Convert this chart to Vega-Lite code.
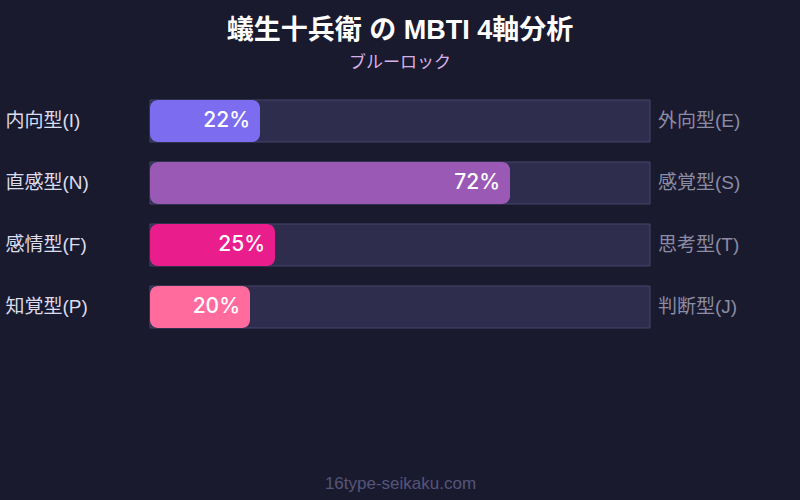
{
  "$schema": "https://vega.github.io/schema/vega-lite/v6.json",
  "width": 500,
  "height": 248,
  "autosize": "none",
  "padding": {"left": 150, "top": 90, "right": 150, "bottom": 162},
  "background": "#1a1a2e",
  "title": {
    "text": "蟻生十兵衛 の MBTI 4軸分析",
    "subtitle": "ブルーロック",
    "anchor": "middle",
    "color": "#ffffff",
    "fontSize": 27,
    "fontWeight": "bold",
    "font": "Liberation Sans, Noto Sans CJK JP",
    "subtitleColor": "#d8b0e8",
    "subtitleFontSize": 17,
    "subtitleFont": "Liberation Sans, Noto Sans CJK JP",
    "subtitlePadding": 10,
    "offset": 18
  },
  "config": {
    "view": {"stroke": null},
    "font": "Liberation Sans, Noto Sans CJK JP"
  },
  "data": {
    "values": [
      {"left": "内向型(I)", "right": "外向型(E)", "value": 22, "key": "I"},
      {"left": "直感型(N)", "right": "感覚型(S)", "value": 72, "key": "N"},
      {"left": "感情型(F)", "right": "思考型(T)", "value": 25, "key": "F"},
      {"left": "知覚型(P)", "right": "判断型(J)", "value": 20, "key": "P"}
    ]
  },
  "encoding": {
    "y": {
      "field": "left",
      "type": "nominal",
      "sort": null,
      "scale": {"paddingInner": 0.3226, "paddingOuter": 0.1613},
      "axis": {
        "title": null,
        "domain": false,
        "ticks": false,
        "tickSize": 0,
        "labelAlign": "left",
        "labelPadding": 145,
        "labelColor": "#dcdcec",
        "labelFontSize": 19,
        "labelFont": "Liberation Sans, Noto Sans CJK JP"
      }
    }
  },
  "layer": [
    {
      "mark": {"type": "bar", "fill": "#2e2d4d", "stroke": "#46456b", "strokeWidth": 1},
      "encoding": {
        "x": {"datum": 0, "type": "quantitative", "scale": {"domain": [0, 100]},
          "axis": {
            "title": "16type-seikaku.com",
            "titleColor": "#55557a",
            "titleFontSize": 17,
            "titleFontWeight": "normal",
            "titleFont": "Liberation Sans, Noto Sans CJK JP",
            "titlePadding": 137,
            "labels": false,
            "ticks": false,
            "domain": false,
            "grid": false
          }
        },
        "x2": {"datum": 100}
      }
    },
    {
      "mark": {"type": "bar", "cornerRadius": 8},
      "encoding": {
        "x": {"field": "value", "type": "quantitative"},
        "color": {
          "field": "key",
          "type": "nominal",
          "scale": {"domain": ["I", "N", "F", "P"], "range": ["#7b6cf0", "#9b59b6", "#e91e8c", "#ff6b9d"]},
          "legend": null
        }
      }
    },
    {
      "mark": {"type": "text", "align": "right", "baseline": "middle", "dx": -10, "fontSize": 21, "fontWeight": 500, "font": "Inter", "color": "#ffffff", "text": {"expr": "datum.value + '%'"}},
      "encoding": {
        "x": {"field": "value", "type": "quantitative"}
      }
    },
    {
      "mark": {"type": "text", "align": "left", "baseline": "middle", "dx": 8, "fontSize": 19, "color": "#8c8ca4"},
      "encoding": {
        "x": {"datum": 100, "type": "quantitative"},
        "text": {"field": "right", "type": "nominal"}
      }
    }
  ]
}
